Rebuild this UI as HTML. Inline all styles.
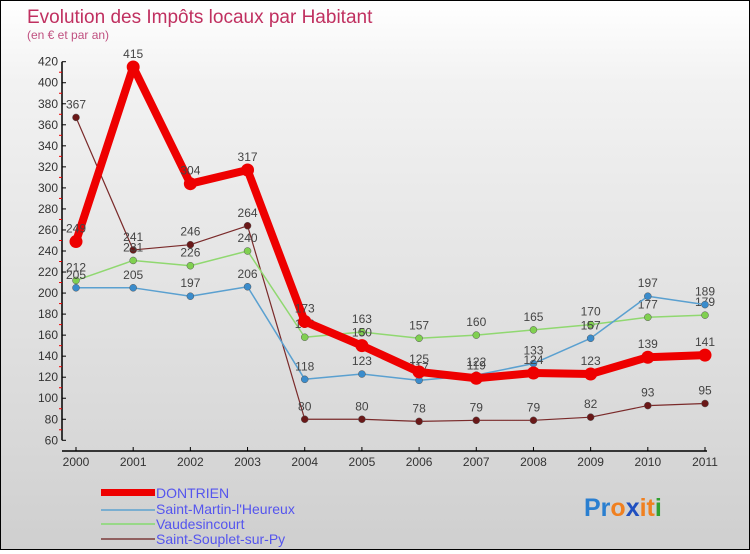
<!DOCTYPE html>
<html><head><meta charset="utf-8"><style>
body{margin:0;width:750px;height:550px;overflow:hidden;font-family:"Liberation Sans",sans-serif}
#wrap{position:relative;width:748px;height:548px;border:1px solid #000;background:linear-gradient(#fff,#f2f2f2 15%,#d8d8d8 80%,#cfcfcf)}
</style></head><body>
<div id="wrap">
<svg id="chart" width="748" height="548" style="font-family:'Liberation Sans',sans-serif">
<text x="26" y="22" font-size="19" fill="#c03060">Evolution des Impôts locaux par Habitant</text>
<text x="26" y="38" font-size="12" fill="#c05080">(en € et par an)</text>
<g id="axes"></g><g id="series"></g>
<g font-size="14" fill="#5555ee">
<rect x="100" y="488" width="54" height="7" fill="#ee0000"/>
<text x="155" y="497">DONTRIEN</text>
<rect x="100" y="508" width="54" height="2" fill="#7aaed0"/>
<text x="155" y="513">Saint-Martin-l'Heureux</text>
<rect x="100" y="522" width="54" height="2" fill="#98d888"/>
<text x="155" y="528">Vaudesincourt</text>
<rect x="100" y="537" width="54" height="2" fill="#906060"/>
<text x="155" y="543">Saint-Souplet-sur-Py</text>
</g>
<text x="583" y="515" font-size="25" font-weight="bold"><tspan fill="#2a7fd0">Pr</tspan><tspan fill="#f08020">o</tspan><tspan fill="#2050c0">x</tspan><tspan fill="#f08020">it</tspan><tspan fill="#30a030">i</tspan></text>
</svg></div>
<script>
const years=["2000","2001","2002","2003","2004","2005","2006","2007","2008","2009","2010","2011"];
const dontrien=[249,415,304,317,173,150,125,119,124,123,139,141];
const saintMartin=[205,205,197,206,118,123,117,122,133,157,197,189];
const vaudesincourt=[212,231,226,240,158,163,157,160,165,170,177,179];
const saintSouplet=[367,241,246,264,80,80,78,79,79,82,93,95];
const yTicks=[60,80,100,120,140,160,180,200,220,240,260,280,300,320,340,360,380,400,420];
const NS="http://www.w3.org/2000/svg";
const x=i=>75+i*(629/11);
const y=v=>439.3-(v-60)*(378.6/360);
function mk(t,a,p){const e=document.createElementNS(NS,t);for(const k in a)e.setAttribute(k,a[k]);p.appendChild(e);return e;}
const ax=document.getElementById('axes');
const yl=mk('line',{x1:61,y1:y(420),x2:61,y2:y(60),stroke:'#000','stroke-width':1.5},ax);


const xl=mk('line',{x1:61,y1:450,x2:x(11)+2,y2:450,stroke:'#000','stroke-width':1.5},ax);


yTicks.forEach(v=>{
 mk('line',{x1:61,y1:y(v),x2:65,y2:y(v),stroke:'#000'},ax);
 if(v<420)mk('line',{x1:58,y1:y(v+10),x2:61,y2:y(v+10),stroke:'#e00'},ax);
 const t=mk('text',{x:57,y:y(v)+4,'text-anchor':'end','font-size':12,fill:'#333'},ax);
 t.textContent=v;
 
 
});
years.forEach((yr,i)=>{
 mk('line',{x1:x(i),y1:446,x2:x(i),y2:450,stroke:'#000'},ax);
 const t=mk('text',{x:x(i),y:465,'text-anchor':'middle','font-size':12,fill:'#333'},ax);
 t.textContent=yr;
 
 
});
const sg=document.getElementById('series');
function draw(data,name,color,dot,w,r){
 const g=mk('g',{},sg);
 
 
 mk('polyline',{points:data.map((v,i)=>x(i)+','+y(v)).join(' '),fill:'none',stroke:color,'stroke-width':w,'stroke-linejoin':'round'},g);
 data.forEach((v,i)=>{
  const c=mk('circle',{cx:x(i),cy:y(v),r:r,fill:dot,stroke:w>3?'none':'#555','stroke-width':0.5},g);
  
  
  const t=mk('text',{x:x(i),y:y(v)-9,'text-anchor':'middle','font-size':12,fill:'#444'},g);
  t.textContent=v;
  
  
 });
}
draw(saintSouplet,'saint-souplet','#7a2a2a','#6a1818',1.2,3.5);
draw(vaudesincourt,'vaudesincourt','#90d870','#80d050',1.5,3.5);
draw(saintMartin,'saint-martin','#5aa0d0','#3a8ccc',1.5,3.5);
draw(dontrien,'dontrien','#ee0000','#ee0000',8,6.5);
</script>
</body></html>
